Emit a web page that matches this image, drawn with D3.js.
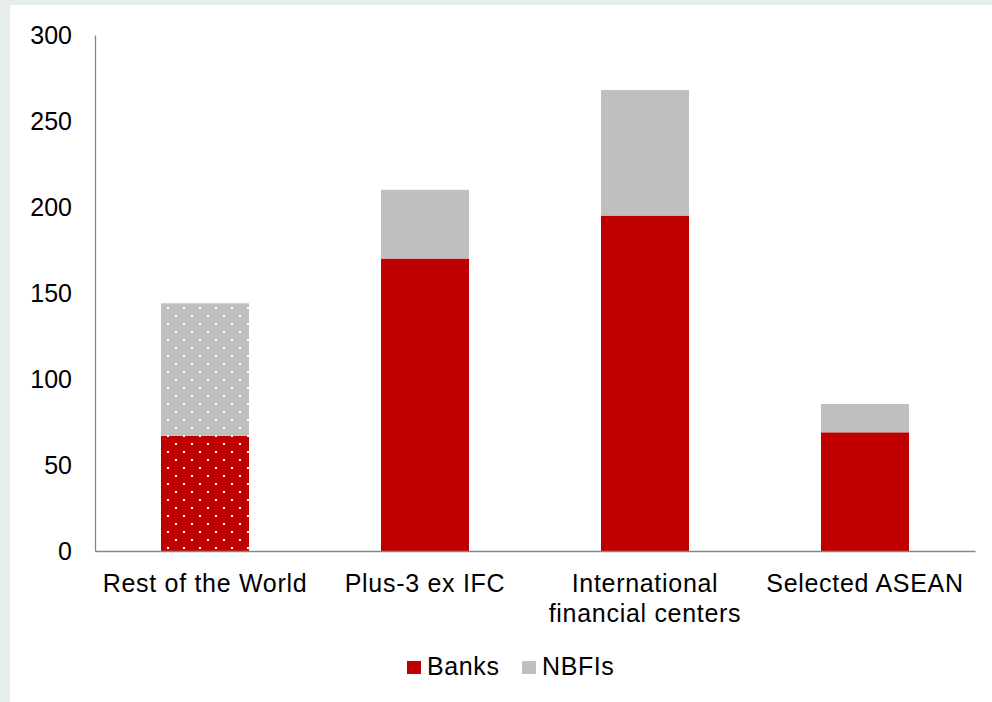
<!DOCTYPE html>
<html>
<head>
<meta charset="utf-8">
<script src="https://cdn.jsdelivr.net/npm/d3@7"></script>
<style>
  html, body { margin: 0; padding: 0; background: #e5eeea; }
  svg { display: block; }
</style>
</head>
<body>
<svg id="chart" width="992" height="702"></svg>
<script>
// Category labels (line breaks marked with \n)
const categories = ["Rest of the World", "Plus-3 ex IFC", "International\nfinancial centers", "Selected ASEAN"];
// Stacked series values
const banks = [67, 170, 195, 69];
const nbfis = [77, 40, 73, 16.5];
// Which bars are drawn with a dotted fill
const dotted = [true, false, false, false];
const yTicks = [0, 50, 100, 150, 200, 250, 300];
const seriesNames = ["Banks", "NBFIs"];
const seriesColors = ["#c00000", "#bfbfbf"];

const svg = d3.select("#chart");
const W = 992, H = 702;

// white panel
svg.append("rect").attr("x", 10).attr("y", 5).attr("width", W - 10).attr("height", H - 5).attr("fill", "#ffffff");

const defs = svg.append("defs");
seriesColors.forEach((c, i) => {
  const p = defs.append("pattern")
    .attr("id", "dots" + i)
    .attr("patternUnits", "userSpaceOnUse")
    .attr("width", 16).attr("height", 16)
    .attr("x", 0).attr("y", 0);
  p.append("rect").attr("width", 16).attr("height", 16).attr("fill", c);
  p.append("rect").attr("x", 7).attr("y", 3).attr("width", 2).attr("height", 2).attr("fill", "#ffffff");
  p.append("rect").attr("x", 15).attr("y", 11).attr("width", 2).attr("height", 2).attr("fill", "#ffffff");
  p.append("rect").attr("x", -1).attr("y", 11).attr("width", 2).attr("height", 2).attr("fill", "#ffffff");
});

const margin = { left: 95, right: 17, top: 35, bottom: 151 };
const x = d3.scaleBand().domain(categories).range([margin.left, W - margin.right]).paddingInner(0.6).paddingOuter(0.3);
const y = d3.scaleLinear().domain([0, 300]).range([H - margin.bottom, margin.top]);

const font = "'Liberation Sans', Arial, sans-serif";
const fs = 25;

// stacked data
const stack = d3.stack().keys([0, 1]).value((d, k) => d[k]);
const rows = categories.map((c, i) => [banks[i], nbfis[i]]);
const layers = stack(rows);

layers.forEach((layer, k) => {
  svg.append("g").selectAll("rect")
    .data(layer)
    .join("rect")
    .attr("x", (d, i) => x(categories[i]))
    .attr("width", x.bandwidth())
    .attr("y", d => y(d[1]))
    .attr("height", d => y(d[0]) - y(d[1]))
    .attr("fill", (d, i) => dotted[i] ? `url(#dots${k})` : seriesColors[k]);
});

// y axis
const yAxis = svg.append("g")
  .attr("transform", `translate(${margin.left},0)`)
  .call(d3.axisLeft(y).tickValues(yTicks).tickSize(0).tickPadding(23));
yAxis.select(".domain").attr("stroke", "#868686").attr("stroke-width", 1.3);
yAxis.selectAll("text").attr("font-family", font).attr("font-size", fs).attr("fill", "#000");

// x axis
const xAxis = svg.append("g")
  .attr("transform", `translate(0,${y(0)})`)
  .call(d3.axisBottom(x).tickSize(0).tickFormat(""));
xAxis.select(".domain").attr("stroke", "#868686").attr("stroke-width", 1.3);

categories.forEach(c => {
  const lines = c.split("\n");
  const t = svg.append("text")
    .attr("x", x(c) + x.bandwidth() / 2)
    .attr("y", y(0) + 41)
    .attr("text-anchor", "middle")
    .attr("letter-spacing", 0.7)
    .attr("font-family", font).attr("font-size", fs).attr("fill", "#000");
  lines.forEach((l, i) => {
    t.append("tspan").attr("x", x(c) + x.bandwidth() / 2).attr("dy", i === 0 ? 0 : 30).text(l);
  });
});

// legend
const legend = svg.append("g");
const legendX = [407, 522];
seriesNames.forEach((n, i) => {
  legend.append("rect").attr("x", legendX[i]).attr("y", 661).attr("width", 14).attr("height", 13).attr("fill", seriesColors[i]);
  legend.append("text").attr("x", legendX[i] + 20).attr("y", 675)
    .attr("letter-spacing", 0.6)
    .attr("font-family", font).attr("font-size", fs).attr("fill", "#000").text(n);
});
</script>
</body>
</html>
